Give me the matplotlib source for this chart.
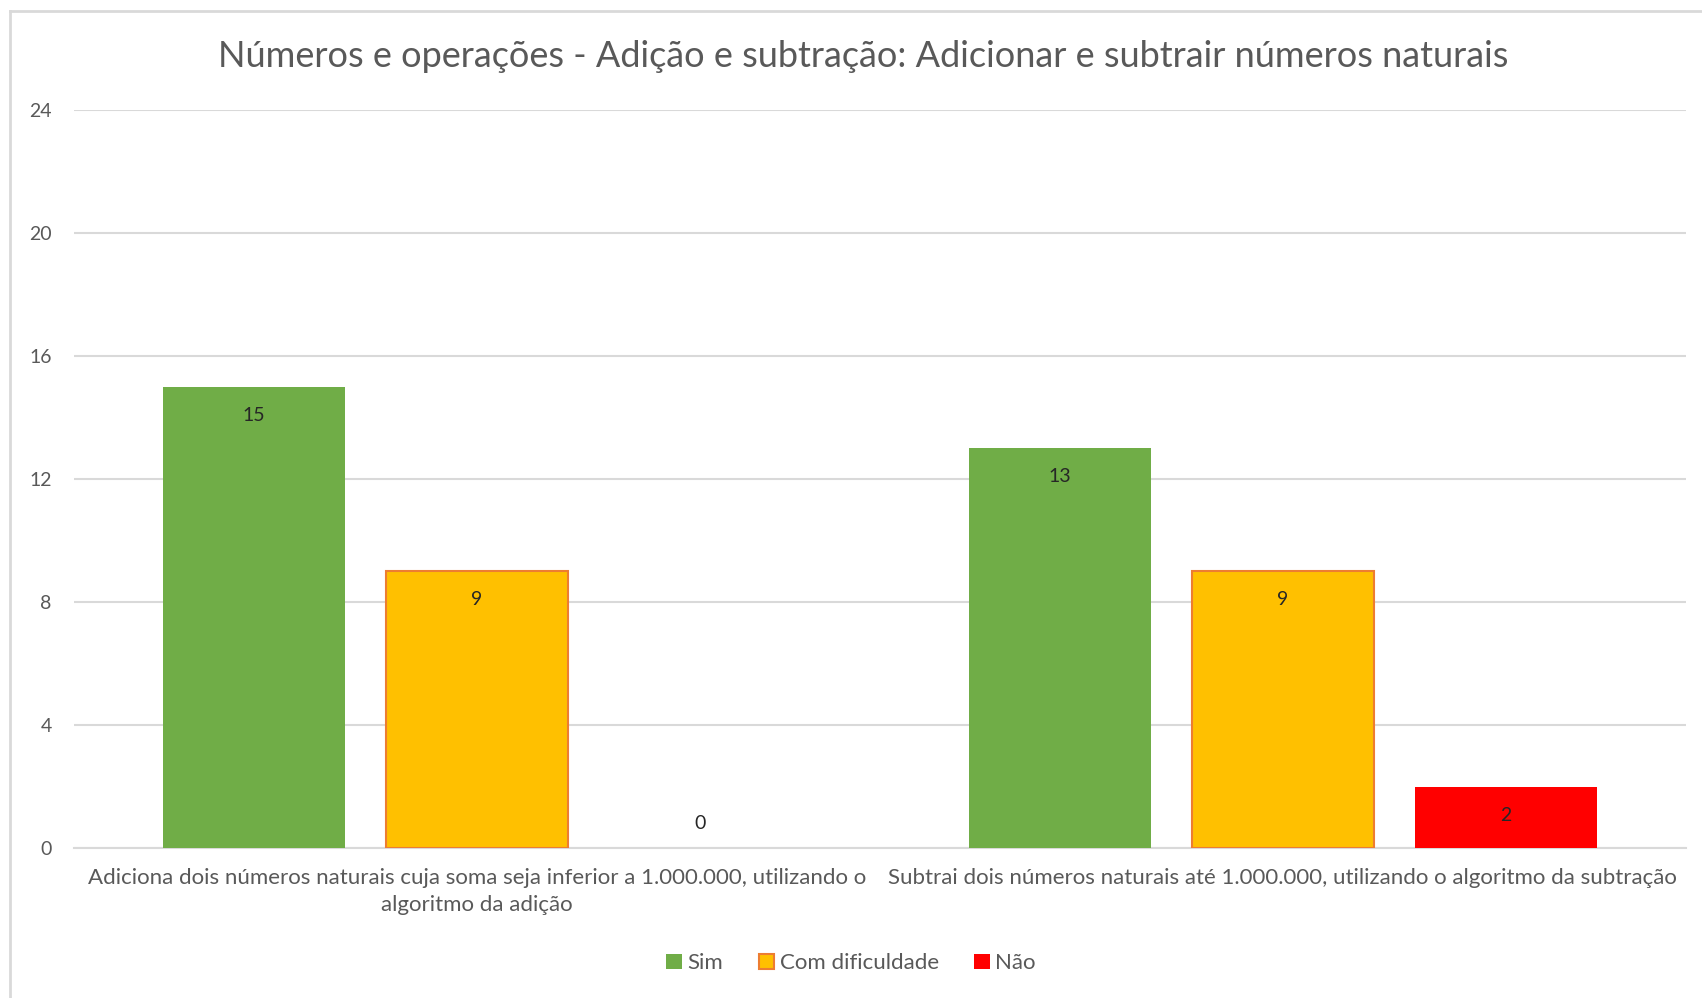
import numpy as np
import matplotlib.pyplot as plt
from matplotlib.lines import Line2D

# Data
categories = [
    "Adiciona dois números naturais cuja soma seja inferior a 1.000.000, utilizando o\nalgoritmo da adição",
    "Subtrai dois números naturais até 1.000.000, utilizando o algoritmo da subtração",
]
series_names = ["Sim", "Com dificuldade", "Não"]
sim = [15, 13]
com_dificuldade = [9, 9]
nao = [0, 2]
yticks = [0, 4, 8, 12, 16, 20, 24]

title = "Números e operações - Adição e subtração: Adicionar e subtrair números naturais"

plt.rcParams['font.family'] = ['Lato', 'DejaVu Sans']
grey = "#595959"

fig = plt.figure(figsize=(17.02, 9.98), dpi=100)
ax = fig.add_axes([0.0435, 0.150, 0.947, 0.740])

x = np.arange(len(categories))
width = 0.226
step = 0.277

colors = ["#70AD47", "#FFC000", "#FF0000"]
edges = ["#70AD47", "#ED7D31", "#FF0000"]
values = [sim, com_dificuldade, nao]

for i, (vals, c, ec, name) in enumerate(zip(values, colors, edges, series_names)):
    pos = x + (i - 1) * step
    lw = 1.5 if name == "Com dificuldade" else 0
    ax.bar(pos, vals, width, color=c, edgecolor=ec, linewidth=lw, label=name, zorder=3)
    for p, v in zip(pos, vals):
        if v == 0:
            ax.text(p, 0.8, str(v), ha="center", va="center", fontsize=14, color="#262626", zorder=4)
        else:
            ax.text(p, v - 0.92, str(v), ha="center", va="center", fontsize=14, color="#262626", zorder=4)

ax.set_xlim(-0.5, 1.5)
ax.set_ylim(0, 24)
ax.set_yticks(yticks)
ax.set_xticks(x)
ax.set_xticklabels(categories, fontsize=16, color=grey, linespacing=1.45)
ax.tick_params(axis="y", labelsize=14, labelcolor=grey, length=0, pad=16)
ax.tick_params(axis="x", length=0, pad=14)
ax.grid(axis="y", color="#d9d9d9", linewidth=1.5, zorder=0)
for s in ["top", "right", "left"]:
    ax.spines[s].set_visible(False)
ax.spines["bottom"].set_color("#d9d9d9")
ax.spines["bottom"].set_linewidth(1.5)

fig.text(0.507, 0.943, title, ha="center", va="center", fontsize=26, color=grey)

leg = fig.legend(loc="center", bbox_to_anchor=(0.5, 0.035), ncol=3, frameon=False,
                 fontsize=16, handlelength=0.7, handleheight=0.7, handletextpad=0.25,
                 columnspacing=1.6)
for t in leg.get_texts():
    t.set_color(grey)

# chart border (left and top only visible)
fig.add_artist(Line2D([10 / 1702, 10 / 1702], [0, 1 - 11 / 998], transform=fig.transFigure,
                      color="#d9d9d9", linewidth=2))
fig.add_artist(Line2D([10 / 1702, 1], [1 - 11 / 998, 1 - 11 / 998], transform=fig.transFigure,
                      color="#d9d9d9", linewidth=2))

fig.savefig("out.png", dpi=100)
